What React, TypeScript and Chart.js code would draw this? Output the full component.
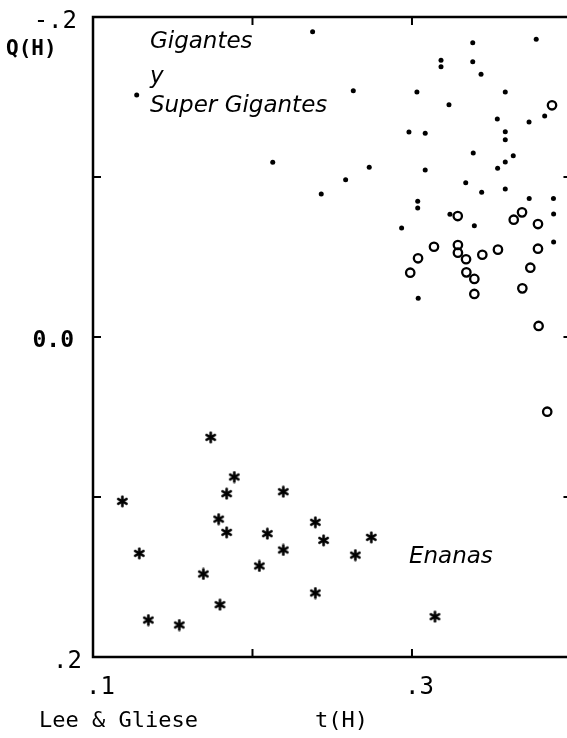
import React, { useEffect, useRef } from "react";
import { Chart, registerables } from "chart.js";

Chart.register(...registerables);

// Gigantes y Super Gigantes (small dots)
const giantX = [0.2377, 0.1274, 0.2127, 0.2431, 0.2584, 0.2732, 0.2632, 0.3381, 0.3779, 0.3182, 0.3182, 0.3381, 0.3433, 0.3031, 0.3585, 0.3232, 0.3832, 0.3535, 0.3734, 0.2981, 0.3083, 0.3585, 0.3585, 0.3384, 0.3635, 0.3585, 0.3537, 0.3083, 0.3337, 0.3437, 0.3585, 0.3735, 0.3887, 0.3036, 0.3036, 0.3238, 0.3888, 0.2935, 0.3391, 0.3888, 0.3039];
const giantY = [-0.1908, -0.1513, -0.1092, -0.0894, -0.0983, -0.1061, -0.1539, -0.1839, -0.1861, -0.1729, -0.1689, -0.1721, -0.1642, -0.1531, -0.1531, -0.1452, -0.1381, -0.1363, -0.1344, -0.1281, -0.1273, -0.1283, -0.1233, -0.1150, -0.1133, -0.1094, -0.1054, -0.1044, -0.0964, -0.0904, -0.0925, -0.0866, -0.0866, -0.0848, -0.0806, -0.0767, -0.0769, -0.0681, -0.0696, -0.0594, -0.0242];

// Open circles
const circleX = [0.3878, 0.3287, 0.3690, 0.3638, 0.3790, 0.3138, 0.3038, 0.2989, 0.3288, 0.3288, 0.3339, 0.3441, 0.3539, 0.3790, 0.3742, 0.3341, 0.3391, 0.3391, 0.3692, 0.3794, 0.3848];
const circleY = [-0.1448, -0.0756, -0.0779, -0.0733, -0.0706, -0.0564, -0.0492, -0.0402, -0.0575, -0.0527, -0.0486, -0.0514, -0.0546, -0.0552, -0.0433, -0.0404, -0.0363, -0.0269, -0.0304, -0.0069, 0.0467];

// Enanas (asterisks)
const dwarfX = [0.1738, 0.1886, 0.1838, 0.2193, 0.1184, 0.1788, 0.1838, 0.2394, 0.2093, 0.2446, 0.1290, 0.2193, 0.2043, 0.1692, 0.2394, 0.1796, 0.1347, 0.1541, 0.2745, 0.2645, 0.3144];
const dwarfY = [0.0627, 0.0875, 0.0979, 0.0967, 0.1027, 0.1138, 0.1221, 0.1158, 0.1229, 0.1271, 0.1352, 0.1331, 0.1431, 0.1481, 0.1600, 0.1673, 0.1769, 0.1800, 0.1252, 0.1363, 0.1748];

// Axis ticks and labels
const xTickValues = [0.2, 0.3];
const yTickValues = [-0.1, 0.0, 0.1];
const rightAxisValue = 0.4;
const xTickLabels = [
  { value: 0.1, text: ".1" },
  { value: 0.3, text: ".3" },
];
const yTickLabels = [
  { value: -0.2, text: "-.2", bold: false, dx: -16, dy: 11 },
  { value: 0.0, text: "0.0", bold: true, dx: -19, dy: 10 },
  { value: 0.2, text: ".2", bold: false, dx: -11, dy: 11 },
];
const yTitle = "Q(H)";
const xTitle = "t(H)";
const sourceNote = "Lee & Gliese";

// In-plot annotations (data coordinates, baseline-left)
const notes = [
  { text: "Gigantes", x: 0.1357, y: -0.1806 },
  { text: "y", x: 0.1357, y: -0.1588 },
  { text: "Super Gigantes", x: 0.1357, y: -0.1406 },
  { text: "Enanas", x: 0.2981, y: 0.1413 },
];

function makeAsterisk(): HTMLCanvasElement {
  const c = document.createElement("canvas");
  c.width = 13;
  c.height = 13;
  const ctx = c.getContext("2d")!;
  ctx.strokeStyle = "#000";
  ctx.lineWidth = 2.6;
  ctx.lineCap = "round";
  const r = 4.8;
  for (const a of [90, 30, 150]) {
    const rad = (a * Math.PI) / 180;
    ctx.beginPath();
    ctx.moveTo(6.5 - r * Math.cos(rad), 6.5 - r * Math.sin(rad));
    ctx.lineTo(6.5 + r * Math.cos(rad), 6.5 + r * Math.sin(rad));
    ctx.stroke();
  }
  return c;
}

const MONO = '"DejaVu Sans Mono", "Liberation Mono", monospace';

const framePlugin = {
  id: "framePlugin",
  afterDraw(chart: any) {
    const { ctx, chartArea: a, scales } = chart;
    const xs = scales.x;
    const ys = scales.y;
    ctx.save();
    ctx.strokeStyle = "#000";
    ctx.lineWidth = 2.5;
    ctx.lineCap = "butt";
    ctx.beginPath();
    ctx.moveTo(a.right + 10, a.top);
    ctx.lineTo(a.left, a.top);
    ctx.lineTo(a.left, a.bottom);
    ctx.lineTo(a.right + 10, a.bottom);
    ctx.stroke();

    ctx.lineWidth = 2;
    const tl = 8;
    for (const v of xTickValues) {
      const px = xs.getPixelForValue(v);
      ctx.beginPath();
      ctx.moveTo(px, a.bottom);
      ctx.lineTo(px, a.bottom - tl);
      ctx.moveTo(px, a.top);
      ctx.lineTo(px, a.top + tl);
      ctx.stroke();
    }
    const rx = xs.getPixelForValue(rightAxisValue);
    for (const v of yTickValues) {
      const py = ys.getPixelForValue(v);
      ctx.beginPath();
      ctx.moveTo(a.left, py);
      ctx.lineTo(a.left + tl, py);
      ctx.moveTo(rx, py);
      ctx.lineTo(rx - tl, py);
      ctx.stroke();
    }

    ctx.fillStyle = "#000";
    ctx.textBaseline = "alphabetic";
    // x tick labels
    ctx.font = `24px ${MONO}`;
    ctx.textAlign = "left";
    for (const t of xTickLabels) {
      ctx.fillText(t.text, xs.getPixelForValue(t.value) - 7, a.bottom + 37);
    }
    // y tick labels
    ctx.textAlign = "right";
    for (const t of yTickLabels) {
      ctx.font = `${t.bold ? "bold " : ""}${t.bold ? 23 : 24}px ${MONO}`;
      ctx.fillText(t.text, a.left + t.dx, ys.getPixelForValue(t.value) + t.dy);
    }
    // titles
    ctx.textAlign = "left";
    ctx.font = `bold 21px ${MONO}`;
    ctx.fillText(yTitle, 6, a.top + 38);
    ctx.font = `22px ${MONO}`;
    ctx.fillText(sourceNote, 39, a.bottom + 70);
    ctx.fillText(xTitle, 315, a.bottom + 70);

    // annotations
    ctx.font = 'italic 23px "DejaVu Sans", sans-serif';
    for (const n of notes) {
      ctx.fillText(n.text, xs.getPixelForValue(n.x), ys.getPixelForValue(n.y));
    }
    ctx.restore();
  },
};

export default function App() {
  const ref = useRef<HTMLCanvasElement | null>(null);

  useEffect(() => {
    if (!ref.current) return;
    const asterisk = makeAsterisk();
    const chart = new Chart(ref.current, {
      type: "scatter",
      data: {
        datasets: [
          {
            label: "Gigantes y Super Gigantes",
            data: giantX.map((x, i) => ({ x, y: giantY[i] })),
            pointStyle: "circle",
            pointRadius: 2.5,
            backgroundColor: "#000",
            borderColor: "#000",
            borderWidth: 0,
          },
          {
            label: "Circulos",
            data: circleX.map((x, i) => ({ x, y: circleY[i] })),
            pointStyle: "circle",
            pointRadius: 4.2,
            backgroundColor: "rgba(255,255,255,0)",
            borderColor: "#000",
            borderWidth: 2.3,
          },
          {
            label: "Enanas",
            data: dwarfX.map((x, i) => ({ x, y: dwarfY[i] })),
            pointStyle: asterisk as any,
            pointRadius: 6,
            backgroundColor: "#000",
            borderColor: "#000",
          },
        ],
      },
      options: {
        responsive: false,
        animation: false,
        devicePixelRatio: 1,
        layout: { autoPadding: false, padding: { left: 93, top: 17, right: 0, bottom: 81 } },
        plugins: {
          legend: { display: false },
          tooltip: { enabled: false },
        },
        scales: {
          x: { type: "linear", min: 0.1, max: 0.3972, display: false },
          y: { type: "linear", min: -0.2, max: 0.2, reverse: true, display: false },
        },
      },
      plugins: [framePlugin],
    });
    return () => chart.destroy();
  }, []);

  return (
    <div style={{ position: "absolute", left: 0, top: 0, width: 567, height: 738, background: "#fff" }}>
      <canvas ref={ref} width={567} height={738} style={{ width: 567, height: 738, display: "block" }} />
    </div>
  );
}
